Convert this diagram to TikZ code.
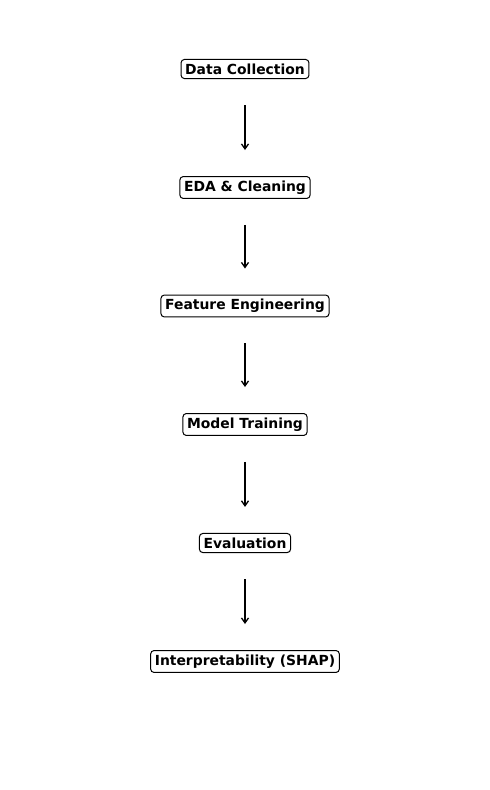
\documentclass[tikz,border=0pt]{standalone}
\usepackage{fontspec}
\setmainfont{DejaVu Sans}
\usetikzlibrary{arrows.meta}
\begin{document}
\begin{tikzpicture}[x=1pt,y=1pt,
  stagebox/.style={draw=black, line width=1pt, rounded corners=3.5pt, fill=white,
    inner xsep=4.2pt, inner ysep=4.2pt, font=\fontsize{13.9}{16}\selectfont\bfseries},
  flowarrow/.style={line width=1.5pt, -{Straight Barb[length=5pt,width=7pt,line width=1.3pt]},
    shorten <=26pt, shorten >=26pt}]
\useasboundingbox (0,0) rectangle (490,-790);
\node[stagebox] (n1) at (245,-69) {Data Collection};
\node[stagebox] (n2) at (245,-187.5) {EDA \& Cleaning};
\node[stagebox] (n3) at (245,-306) {Feature Engineering};
\node[stagebox] (n4) at (245,-424.5) {Model Training};
\node[stagebox] (n5) at (245,-543) {Evaluation};
\node[stagebox] (n6) at (245,-661.5) {Interpretability (SHAP)};
\draw[flowarrow] (n1.south) -- (n2.north);
\draw[flowarrow] (n2.south) -- (n3.north);
\draw[flowarrow] (n3.south) -- (n4.north);
\draw[flowarrow] (n4.south) -- (n5.north);
\draw[flowarrow] (n5.south) -- (n6.north);
\end{tikzpicture}
\end{document}
